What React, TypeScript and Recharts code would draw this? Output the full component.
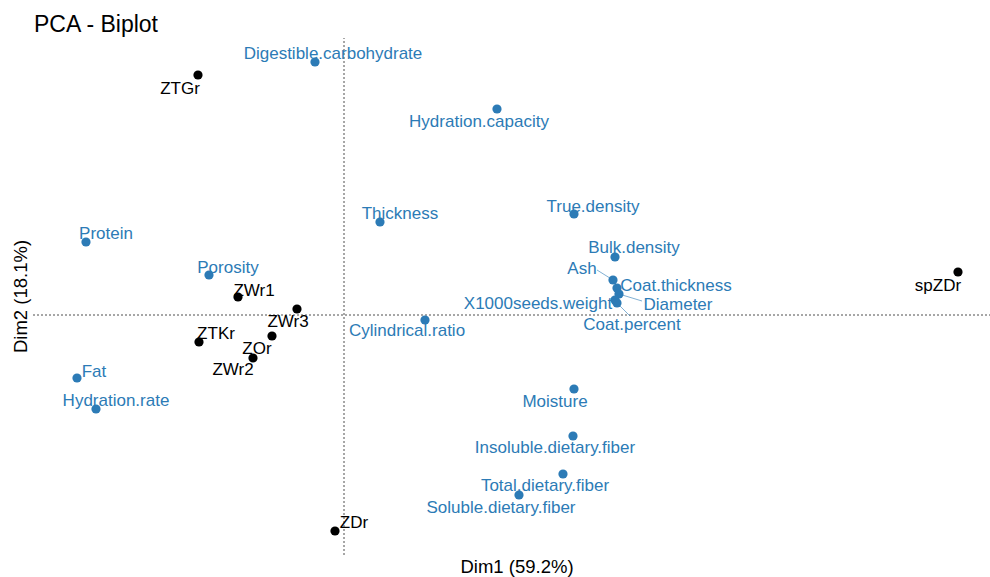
import { ScatterChart, Scatter, XAxis, YAxis, ReferenceLine } from "recharts";

// PCA scores of the individuals (Dim1, Dim2)
const indNames = ["ZTGr", "spZDr", "ZWr1", "ZWr3", "ZTKr", "ZOr", "ZWr2", "ZDr"];
const indDim1 = [-1.46, 6.14, -1.06, -0.47, -1.45, -0.72, -0.91, -0.09];
const indDim2 = [2.40, 0.43, 0.18, 0.06, -0.27, -0.21, -0.43, -2.16];

// variable coordinates (scaled to the individuals)
const varNames = [
  "Digestible.carbohydrate", "Hydration.capacity", "Thickness", "True.density",
  "Protein", "Porosity", "Bulk.density", "Ash", "Coat.thickness", "Diameter",
  "X1000seeds.weight", "Coat.percent", "Cylindrical.ratio", "Fat", "Hydration.rate",
  "Moisture", "Insoluble.dietary.fiber", "Total.dietary.fiber", "Soluble.dietary.fiber",
];
const varDim1 = [-0.29, 1.53, 0.36, 2.30, -2.58, -1.35, 2.71, 2.69, 2.73, 2.75, 2.71, 2.73, 0.81, -2.67, -2.48, 2.30, 2.29, 2.19, 1.75];
const varDim2 = [2.53, 2.06, 0.93, 1.01, 0.73, 0.40, 0.58, 0.35, 0.27, 0.21, 0.15, 0.12, -0.05, -0.63, -0.94, -0.74, -1.21, -1.59, -1.80];

const BLUE = "#2C7BB6";
const FONT = "'Liberation Sans', Arial, sans-serif";

// repelled label placement (text centre relative to the point) and leader lines
const labelShift: Record<string, [number, number]> = {
  ZTGr: [-18, 13], spZDr: [-20, 13], ZWr1: [16, -7], ZWr3: [-9, 12],
  ZTKr: [17, -9], ZOr: [-15, 12], ZWr2: [-20, 11], ZDr: [19, -9],
  "Digestible.carbohydrate": [18, -9], "Hydration.capacity": [-18, 12],
  Thickness: [20, -9], "True.density": [19, -8], Protein: [20, -9],
  Porosity: [19, -8], "Bulk.density": [19, -10], Ash: [-31, -12],
  "Coat.thickness": [59, -3], Diameter: [59, 10], "X1000seeds.weight": [-77, 3],
  "Coat.percent": [15, 21], "Cylindrical.ratio": [-18, 10], Fat: [17, -7],
  "Hydration.rate": [20, -9], Moisture: [-19, 12], "Insoluble.dietary.fiber": [-18, 11],
  "Total.dietary.fiber": [-18, 11], "Soluble.dietary.fiber": [-18, 12],
};
const leader: Record<string, [number, number]> = {
  Ash: [-16, -10], Diameter: [23, 7], "Coat.percent": [13, 13],
};

const individuals = indNames.map((name, i) => ({ name, x: indDim1[i], y: indDim2[i] }));
const variables = varNames.map((name, i) => ({ name, x: varDim1[i], y: varDim2[i] }));

function makeShape(color: string) {
  return (props: any) => {
    const { cx, cy, payload } = props;
    const [dx, dy] = labelShift[payload.name] || [0, -12];
    const lead = leader[payload.name];
    return (
      <g>
        {lead && (
          <line x1={cx} y1={cy} x2={cx + lead[0]} y2={cy + lead[1]} stroke={color} strokeWidth={0.6} />
        )}
        <circle cx={cx} cy={cy} r={4.6} fill={color} />
        <text x={cx + dx} y={cy + dy} textAnchor="middle" dominantBaseline="central"
              fill={color} fontSize={17} fontFamily={FONT}>
          {payload.name}
        </text>
      </g>
    );
  };
}

export default function App() {
  return (
    <div style={{ position: "absolute", left: 0, top: 0, width: 990, height: 577, background: "#fff" }}>
      <svg width={990} height={40} style={{ position: "absolute", left: 0, top: 0 }}>
        <text x={34} y={32} fontSize={23} fontFamily={FONT} fill="#000">PCA - Biplot</text>
      </svg>
      <ScatterChart width={990} height={577} margin={{ top: 38, right: 0, bottom: 0, left: 0 }}>
        <XAxis type="number" dataKey="x" domain={[-3.11, 6.46]} allowDataOverflow
               tick={false} tickLine={false} axisLine={false} height={22}
               label={() => (
                 <text x={517} y={573} textAnchor="middle" fontSize={18.5} fontFamily={FONT} fill="#000">
                   Dim1 (59.2%)
                 </text>
               )} />
        <YAxis type="number" dataKey="y" domain={[-2.40, 2.77]} allowDataOverflow
               tick={false} tickLine={false} axisLine={false} width={33}
               label={(p: any) => {
                 const vb = p.viewBox;
                 const cx = 27, cy = vb.y + vb.height / 2;
                 return (
                   <text x={cx} y={cy} transform={`rotate(-90 ${cx} ${cy})`} textAnchor="middle"
                         fontSize={18.5} fontFamily={FONT} fill="#000">Dim2 (18.1%)</text>
                 );
               }} />
        <ReferenceLine x={0} stroke="#222" strokeDasharray="2 2" strokeWidth={0.8} />
        <ReferenceLine y={0} stroke="#222" strokeDasharray="2 2" strokeWidth={0.8} />
        <Scatter data={variables} shape={makeShape(BLUE)} isAnimationActive={false} />
        <Scatter data={individuals} shape={makeShape("#000")} isAnimationActive={false} />
      </ScatterChart>
    </div>
  );
}
